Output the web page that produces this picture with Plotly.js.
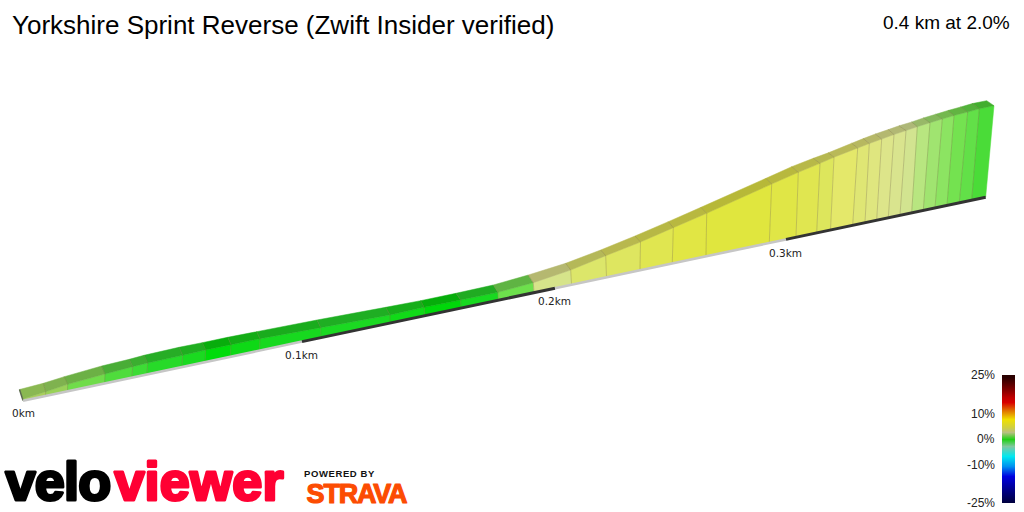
<!DOCTYPE html>
<html><head><meta charset="utf-8">
<script src="https://cdn.plot.ly/plotly-3.0.1.min.js"></script>
<style>html,body{margin:0;padding:0;background:#fff}#c{width:1024px;height:512px}</style>
</head><body><div id="c"></div>
<script>
const frontX=[23,45.7,67.7,105,132.7,147.7,182.7,205.7,231,260,320.7,390,424,460.7,498,533.3,570.7,605.7,640.5,673.3,706.7,771.7,798.3,820,834,857.7,869.3,881.7,894,906,917.3,930,942.3,954,967.7,979.3,994];
const frontY=[399,391.7,384.3,374,366.7,363,355.3,350,344.7,338.7,327.7,315,307.3,300,292.3,282.7,270,255.7,242,227.7,213.3,184,172.3,163.3,157.2,148,143.5,139,134.5,130.5,126.7,122.7,119,115.5,112,108.8,105.7];
const baseX=[23,45.5,67.5,104.5,132,147,182,205,230.5,259.5,321,390,425,461,498.3,534,571.5,606.5,640,672.3,706,769.3,796,816.7,830.5,852.7,865,876.7,888.3,900,911.7,923.3,935,947,959.3,971.7,985.7];
const baseY=[400.5,395.4,390.7,382.9,377,373.8,366.5,361.6,356.3,350.2,337.3,322.6,315.3,307.5,299.8,292,284,276.8,269.8,263,255.9,242.5,236.9,232.5,229.7,225,222.3,219.9,217.5,215,212.6,210.1,207.6,205.1,202.5,199.8,197];
const backX=[19.5,43.3,64.3,101.7,129.3,144,179,202.3,227.7,256.7,317,385.7,420.7,456,493.3,528.3,565.7,600.7,635,668.3,701,766,791.7,813.3,828.3,851.7,863.3,875.3,888.3,899,911.7,923.3,935.7,948,960.7,972.3,986.7];
const backY=[389.5,383.3,376.7,366,359.3,355.3,347.3,342.7,337.3,331.7,320,307.3,300.7,293.3,285,275,263.3,250,236,221.7,207.3,178.3,166.7,158.3,152.8,143.3,138.6,134,129.6,125.8,122,118,114.3,110.5,107,103.6,100.7];
const frontColors=['#a9cf5c','#99d158','#70dc4a','#4fdc3c','#3ddc35','#27da29','#1ada20','#00dc0a','#0ed916','#17d91f','#1bd922','#11da18','#00d80a','#18d920','#6de04c','#d6e48a','#dce66a','#dee660','#e0e650','#e1e644','#e0e63e','#e0e646','#e0e650','#dde65c','#e4e86a','#dfe674','#dfe67f','#dde58a','#d9e48e','#d2e490','#b8e680','#a0e470','#8ce462','#74e250','#62e048','#4adc38'];
const topColors=['#8ab852','#7fb24f','#6cb045','#49ad36','#3bae30','#27ad26','#1fae20','#08ad0c','#14ad16','#1aac1d','#1fae23','#17ae1a','#06ad0b','#20ab22','#5fb443','#b5b870','#b5b858','#b8b84e','#b7b845','#b8b840','#b7b838','#b8b83e','#b8b848','#b6b850','#b9b958','#b7b860','#b6b868','#b4b870','#b2b874','#aeb878','#98b868','#84b85c','#74b84f','#62b442','#52b23a','#42ae2e'];
const kmLabels=['0km','0.1km','0.2km','0.3km'];
const kmLabelX=[23,301,554,785];
const kmLabelY=[413,355,301,253];
const ribbonX=[[23,302],[302,555],[555,786],[786,985.7]];
const ribbonY=[[400.8,341.6],[341.6,288.2],[288.2,239.4],[239.4,197.3]];
const ribbonColors=['#c6c6c6','#333333','#c6c6c6','#333333'];
const legendLabels=['25%','10%','0%','-10%','-25%'];
const legendLabelY=[375,414,439,465,503];
const legendX=[1005.25,1011.75];
const legendY=[375.5,376.5,389,397,402,410,419,427,432,438.5,446,456,466,476,491,501.5,502.5];
const legendColors=['#2a0000','#2a0000','#800000','#c00000','#d80000','#e07000','#f0e000','#d0d040','#b8c080','#20d015','#80c8a0','#00e8f0','#0090f0','#0000e0','#000080','#000040','#000040'];

const traces=[];
for(let i=0;i<frontColors.length;i++){
  traces.push({x:[baseX[i],frontX[i],frontX[i+1],baseX[i+1],baseX[i]],y:[baseY[i],frontY[i],frontY[i+1],baseY[i+1],baseY[i]],
    mode:'lines',fill:'toself',fillcolor:frontColors[i],line:{color:frontColors[i],width:0.5},hoverinfo:'skip',showlegend:false});
  traces.push({x:[frontX[i],backX[i],backX[i+1],frontX[i+1],frontX[i]],y:[frontY[i],backY[i],backY[i+1],frontY[i+1],frontY[i]],
    mode:'lines',fill:'toself',fillcolor:topColors[i],line:{color:topColors[i],width:0.5},hoverinfo:'skip',showlegend:false});
}
const sx=[],sy=[];
for(let i=1;i<frontX.length-1;i++){sx.push(baseX[i],frontX[i],backX[i],null);sy.push(baseY[i],frontY[i],backY[i],null);}
traces.push({x:sx,y:sy,mode:'lines',line:{color:'rgba(120,110,60,0.33)',width:1},hoverinfo:'skip',showlegend:false});
traces.push({x:[baseX[0],backX[0]],y:[baseY[0],backY[0]],mode:'lines',line:{color:'#5c6a50',width:1.5},hoverinfo:'skip',showlegend:false});
ribbonX.forEach((rx,i)=>traces.push({x:rx,y:ribbonY[i],mode:'lines',line:{color:ribbonColors[i],width:i%2?3:2.6},hoverinfo:'skip',showlegend:false}));
const n=legendColors.length-1;
traces.push({type:'heatmap',x:legendX,y:legendY,z:legendY.map((_,i)=>[i/n,i/n]),zmin:0,zmax:1,zsmooth:'best',
  colorscale:legendColors.map((c,i)=>[i/n,c]),showscale:false,hoverinfo:'skip'});

const ann=[];
const txt=(text,x,y,size,color,anchor,family,weight)=>ann.push({text,x,y,xref:'x',yref:'y',showarrow:false,xanchor:anchor,yanchor:'middle',borderpad:0,font:{size,color,family,weight:weight||400}});
kmLabels.forEach((t,i)=>txt(t,kmLabelX[i],kmLabelY[i],10.5,'#222','center','DejaVu Sans'));
legendLabels.forEach((t,i)=>txt(t,996,legendLabelY[i],12,'#222','right','Liberation Sans'));
txt('0.4 km at 2.0%',1011,22,19,'#000','right','Liberation Sans');
txt('velo',58,481,54,'#000','center','Liberation Sans',700);
txt('viewer',199,481,54,'#ff0033','center','Liberation Sans',700);
txt('POWERED BY',340,473,9.5,'#111','center','Liberation Sans',700);
txt('STRAVA',356.5,494,27,'#fc4c02','center','Liberation Sans',700);

const layout={width:1024,height:512,margin:{l:0,r:0,t:0,b:0},paper_bgcolor:'#fff',plot_bgcolor:'#fff',showlegend:false,
  title:{text:'Yorkshire Sprint Reverse (Zwift Insider verified)',x:12/1024,xanchor:'left',y:1-25/512,yanchor:'middle',font:{family:'Liberation Sans',size:26,color:'#000'}},
  xaxis:{range:[0,1024],visible:false,fixedrange:true},yaxis:{range:[512,0],visible:false,fixedrange:true},annotations:ann};
Plotly.newPlot('c',traces,layout,{displayModeBar:false,staticPlot:true}).then(()=>{
  const st={velo:['-0.8px','#000','3'],viewer:['0.2px','#ff0033','3'],'POWERED BY':['0.6px',null,0],STRAVA:['-1.2px','#fc4c02','1.2']};
  document.querySelectorAll('.annotation-text').forEach(t=>{
    const s=st[t.textContent]; if(!s)return;
    t.style.letterSpacing=s[0];
    if(s[1]){t.style.stroke=s[1];t.style.strokeWidth=s[2];t.style.strokeLinejoin='round';}
  });
});
</script></body></html>
